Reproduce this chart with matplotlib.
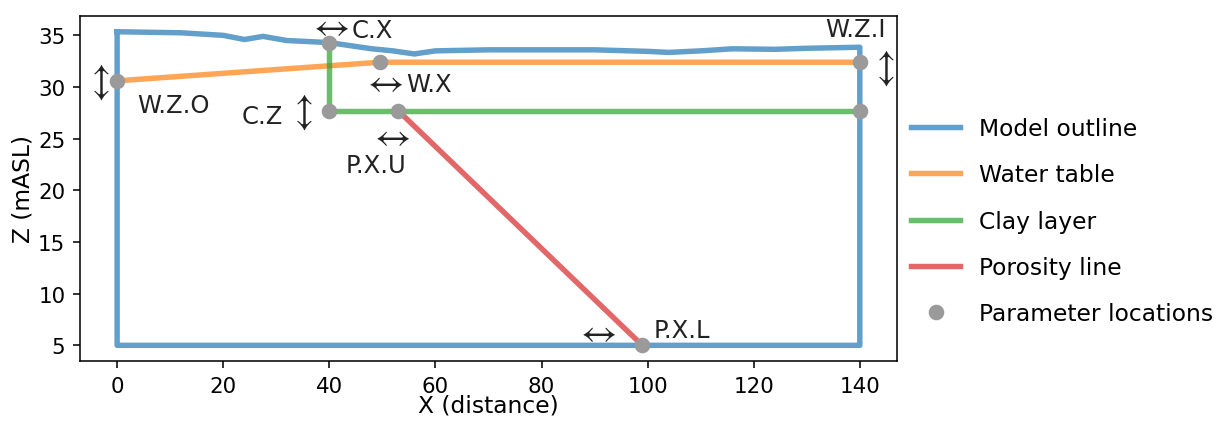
import matplotlib
matplotlib.use("Agg")
import matplotlib.pyplot as plt
import numpy as np

# model outline: top surface (x, z), then the box closes down to the base
top_x = [0, 12, 20, 24, 27.5, 32, 40, 44, 48, 52, 56, 60, 70, 80, 90, 100, 104, 110, 116, 124, 130, 140]
top_z = [35.35, 35.25, 35.0, 34.6, 34.9, 34.5, 34.3, 34.0, 33.7, 33.5, 33.2, 33.5, 33.6, 33.6, 33.6, 33.45, 33.35, 33.5, 33.7, 33.65, 33.75, 33.85]
base_z = 5.0

# water table
wt_x = [0, 49.5, 140]
wt_z = [30.6, 32.4, 32.4]

# clay layer
clay_x = [40, 40, 140]
clay_z = [34.3, 27.7, 27.7]

# porosity line
por_x = [53, 99]
por_z = [27.7, 5.0]

# parameter locations
par_x = [0, 40, 49.5, 40, 53, 99, 140, 140]
par_z = [30.6, 34.3, 32.4, 27.7, 27.7, 5.0, 32.4, 27.7]

out_x = top_x + [140, 0, 0]
out_z = top_z + [base_z, base_z, top_z[0]]

fig = plt.figure(figsize=(8.75, 3.021), dpi=140)
ax = fig.add_axes([0.0653, 0.1442, 0.6669, 0.8156])

lw = 2.8
ax.plot(out_x, out_z, color='tab:blue', lw=lw, alpha=0.7, label='Model outline')
ax.plot(wt_x, wt_z, color='tab:orange', lw=lw, alpha=0.7, label='Water table')
ax.plot(clay_x, clay_z, color='tab:green', lw=lw, alpha=0.7, label='Clay layer')
ax.plot(por_x, por_z, color='tab:red', lw=lw, alpha=0.7, label='Porosity line')
ax.plot(par_x, par_z, 'o', color='#9a9a9a', ms=7, label='Parameter locations')

arrow_fs = 19
txt_fs = 12.5
LR = r'$\leftrightarrow$'
UD = r'$\updownarrow$'

def note(x, z, s, dx, dy, ha='center', fs=txt_fs):
    ax.annotate(s, (x, z), xytext=(dx, dy), textcoords='offset pixels',
                ha=ha, va='center', fontsize=fs, color='#222222',
                math_fontfamily='stixsans')

# C.X
note(40, 34.3, LR, 0, 17, fs=arrow_fs)
note(40, 34.3, 'C.X', 22, 13, ha='left')
# W.Z.O
note(0, 30.6, UD, -19, 0, fs=arrow_fs)
note(0, 30.6, 'W.Z.O', 20, -24, ha='left')
# W.X
note(49.5, 32.4, LR, 4, -19, fs=arrow_fs)
note(49.5, 32.4, 'W.X', 26, -22, ha='left')
# C.Z
note(40, 27.7, UD, -28, 0, fs=arrow_fs)
note(40, 27.7, 'C.Z', -46, -5, ha='right')
# P.X.U
note(53, 27.7, LR, -8, -25, fs=arrow_fs)
note(53, 27.7, 'P.X.U', -22, -54)
# P.X.L
note(99, 5.0, LR, -46, 14, fs=arrow_fs)
note(99, 5.0, 'P.X.L', 11, 15, ha='left')
# W.Z.I
note(140, 32.4, 'W.Z.I', -4, 33)
note(140, 32.4, UD, 23, -5, fs=arrow_fs)

ax.set_xlabel('X (distance)', fontsize=12, labelpad=-1)
ax.set_ylabel('Z (mASL)', fontsize=12, labelpad=2)
ax.tick_params(labelsize=11, pad=4)

ax.legend(loc='center left', bbox_to_anchor=(0.992, 0.405), frameon=False,
          fontsize=12, handlelength=2.1, labelspacing=1.0)

fig.savefig('out.png', dpi=140)
